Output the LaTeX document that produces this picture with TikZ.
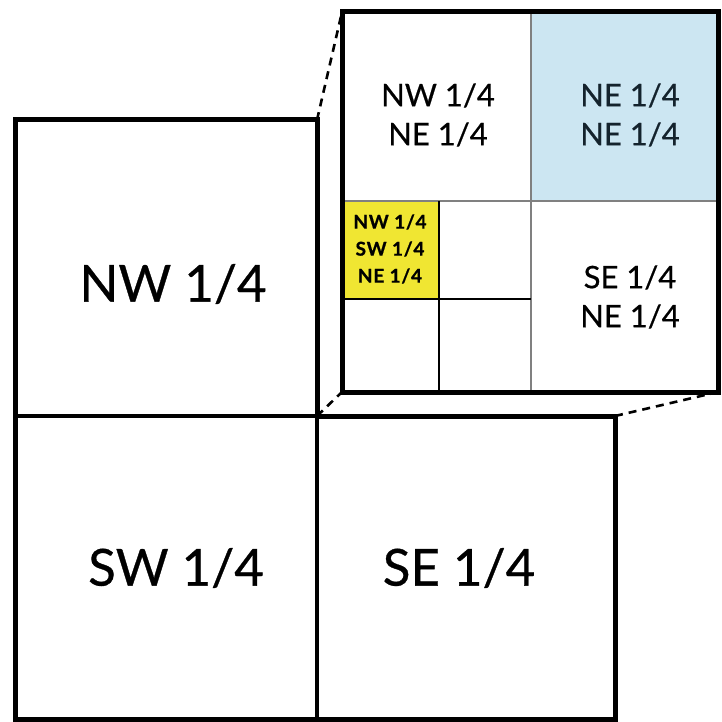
\documentclass[tikz,border=0pt]{standalone}
\usepackage{fontspec}
\setmainfont{Lato}[FakeBold=0.6]
\newfontfamily\smallbold{Lato}[FakeBold=0.8,LetterSpace=4]
\definecolor{cellblue}{RGB}{204,230,242}
\definecolor{cellyellow}{RGB}{240,230,50}
\definecolor{textblue}{RGB}{20,35,45}
\begin{document}
\begin{tikzpicture}[x=1pt,y=-1pt,
  bigbox/.style={draw=black, line width=5pt},
  midline/.style={draw=black, line width=3.2pt},
  thinline/.style={draw=black!50, line width=2pt},
  gridline/.style={draw=black, line width=2.8pt},
  zoomline/.style={draw=black, line width=2.6pt, dash pattern=on 8pt off 6pt},
  bigtext/.style={font=\fontsize{51}{60}\selectfont},
  midtext/.style={font=\fontsize{31}{39}\selectfont, align=center},
  smalltext/.style={font=\smallbold\bfseries\fontsize{19}{27}\selectfont, align=center}]
\useasboundingbox (0,0) rectangle (721,722);
% main section
\coordinate (nwTL) at (15,120);
\coordinate (nwTR) at (317,120);
\coordinate (cen) at (317,416);
\coordinate (seTR) at (615,416);
\coordinate (seBR) at (615,719);
\coordinate (swBL) at (15,719);
\coordinate (midB) at (317,719);
\coordinate (wMid) at (15,416);
% inset
\coordinate (inTL) at (342,12);
\coordinate (inBL) at (342,392);
\coordinate (inBR) at (718,392);
\coordinate (inTR) at (718,12);
\coordinate (inTM) at (531,12);
\coordinate (inBM) at (531,392);
\coordinate (inLM) at (342,201);
\coordinate (inRM) at (718,201);
\coordinate (inC) at (531,201);
\coordinate (qT) at (439,201);
\coordinate (qB) at (439,392);
\coordinate (qL) at (342,299);
\coordinate (qR) at (531,299);
% fills
\fill[cellblue] (inC) rectangle (inTR);
\fill[cellyellow] (inLM) rectangle (439,299);
% main quarter lines
\draw[midline] (wMid) -- (cen);
\draw[midline] (cen) -- (midB);
\draw[bigbox] (cen) -- (nwTR) -- (nwTL) -- (swBL) -- (seBR) -- (seTR) -- (cen);
% inset lines
\draw[thinline] (inTM) -- (inBM);
\draw[thinline] (inLM) -- (inRM);
\draw[gridline] (qT) -- (qB);
\draw[gridline] (qL) -- (qR);
\draw[bigbox] (inTL) rectangle (inBR);
% zoom lines
\draw[zoomline] (nwTR) -- (inTL);
\draw[zoomline] (cen) -- (inBL);
\draw[zoomline] (seTR) -- (inBR);
% labels
\node[bigtext] (nw) at (173,284) {NW 1/4};
\node[bigtext] (sw) at (176,568) {SW 1/4};
\node[bigtext] (se) at (459,568) {SE 1/4};
\node[midtext] (nwne) at (438,115) {NW 1/4\\NE 1/4};
\node[midtext, text=textblue] (nene) at (630,115) {NE 1/4\\NE 1/4};
\node[midtext] (sene) at (630,297) {SE 1/4\\NE 1/4};
\node[smalltext] (nwswne) at (390,249) {NW 1/4\\SW 1/4\\NE 1/4};
\end{tikzpicture}
\end{document}
